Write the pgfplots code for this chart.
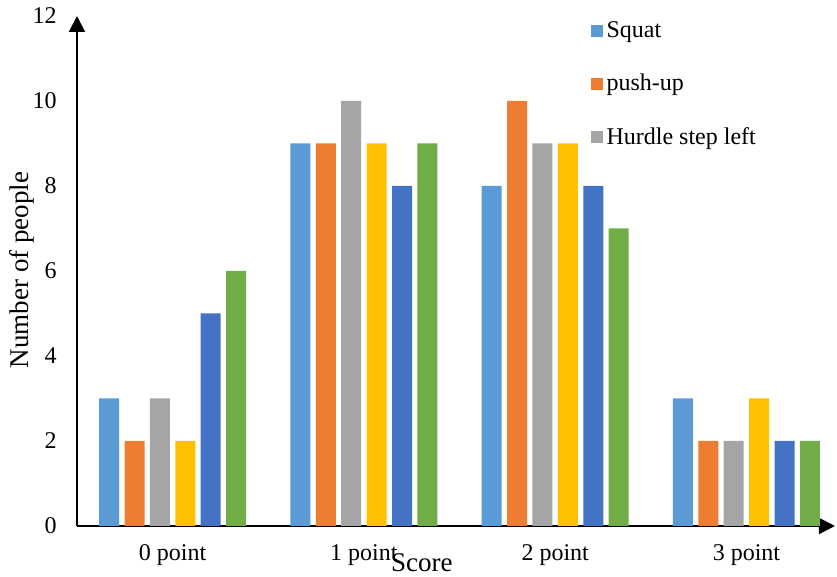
\documentclass[border=0pt]{standalone}
\usepackage{pgfplots}
\pgfplotsset{compat=1.18}
\usepackage{fontspec}
\setmainfont{Liberation Serif}
\usetikzlibrary{arrows.meta}

\definecolor{cBlue}{HTML}{5B9BD5}
\definecolor{cOrange}{HTML}{ED7D31}
\definecolor{cGray}{HTML}{A5A5A5}
\definecolor{cGold}{HTML}{FFC000}
\definecolor{cDBlue}{HTML}{4472C4}
\definecolor{cGreen}{HTML}{70AD47}

\begin{document}
\begin{tikzpicture}
\fontsize{12}{14}\selectfont
\useasboundingbox (-38.5pt,-25.5pt) rectangle (380pt,263pt);
\begin{axis}[
  at={(0,0)}, anchor=south west,
  scale only axis, width=379pt, height=255pt,
  ybar=2.7pt, bar width=10pt,
  xmin=-0.5, xmax=3.463, ymin=0, ymax=12,
  xtick={0,1,2,3},
  xticklabels={0 point,1 point,2 point,3 point},
  ytick={0,2,4,6,8,10,12},
  major tick length=0pt,
  axis lines=left,
  axis line style={line width=1pt, -{Triangle[length=8pt,width=8pt]}},
  /pgf/number format/assume math mode=true,
  tick label style={font=\fontsize{12}{14}\selectfont},
  yticklabel style={xshift=-6pt},
  xticklabel style={yshift=-5pt},
  xlabel={Score},
  xlabel style={at={(axis description cs:0.455,0)}, anchor=center, yshift=-18.5pt, font=\fontsize{13.5}{15}\selectfont},
  ylabel={Number of people},
  ylabel style={at={(axis description cs:-0.0726,0.502)}, anchor=center, font=\fontsize{13.5}{15}\selectfont},
  legend entries={Squat,push-up,Hurdle step left},
  legend style={at={(axis description cs:0.677,0.998)}, anchor=north west, draw=none, fill=none,
    row sep=12.5pt, font=\fontsize{12}{14}\selectfont, inner sep=0pt,
    /tikz/every even column/.append style={column sep=0pt}},
  legend cell align=left,
  legend image code/.code={\fill[#1] (0pt,-3pt) rectangle (6pt,3pt);},
]
\addplot[fill=cBlue, draw=none]   coordinates {(0,3) (1,9) (2,8) (3,3)};
\addplot[fill=cOrange, draw=none] coordinates {(0,2) (1,9) (2,10) (3,2)};
\addplot[fill=cGray, draw=none]   coordinates {(0,3) (1,10) (2,9) (3,2)};
\addplot[fill=cGold, draw=none]   coordinates {(0,2) (1,9) (2,9) (3,3)};
\addplot[fill=cDBlue, draw=none]  coordinates {(0,5) (1,8) (2,8) (3,2)};
\addplot[fill=cGreen, draw=none]  coordinates {(0,6) (1,9) (2,7) (3,2)};
\end{axis}
\end{tikzpicture}
\end{document}
